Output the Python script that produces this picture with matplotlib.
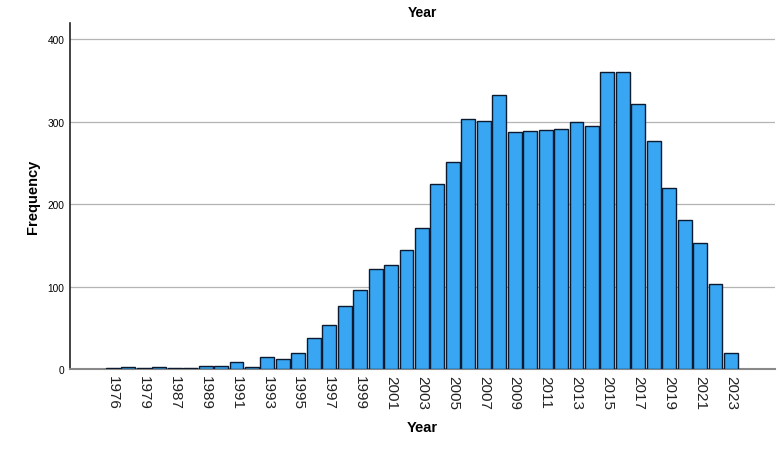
import matplotlib
matplotlib.use("Agg")
import matplotlib.pyplot as plt
import numpy as np

plt.rcParams['font.family'] = ['Liberation Sans', 'DejaVu Sans']

years = ["1976", "1978", "1979", "1983", "1987", "1988", "1989", "1990", "1991", "1992",
         "1993", "1994", "1995", "1996", "1997", "1998", "1999", "2000", "2001", "2002",
         "2003", "2004", "2005", "2006", "2007", "2008", "2009", "2010", "2011", "2012",
         "2013", "2014", "2015", "2016", "2017", "2018", "2019", "2020", "2021", "2022",
         "2023"]
counts = [1, 3, 1, 2, 1, 1, 4, 4, 8, 3,
          14, 12, 20, 38, 53, 77, 96, 121, 126, 145,
          171, 225, 251, 303, 301, 333, 288, 289, 290, 291,
          300, 295, 360, 360, 322, 277, 220, 181, 153, 103,
          19]
y_ticks = [0, 100, 200, 300, 400]

fig = plt.figure(figsize=(7.8, 4.52), dpi=100)
ax = fig.add_axes([0.0897, 0.1814, 0.9039, 0.7655])

x = np.arange(len(years))
ax.bar(x, counts, width=0.9, color='#38A6F2', edgecolor='#0B1A2E', linewidth=1.0, zorder=3)

ax.set_xlim(-2.78, 42.85)
ax.set_ylim(0, 420)
ax.set_yticks(y_ticks)
ax.set_yticklabels([str(v) for v in y_ticks], fontsize=7.3)
ax.set_xticks(x[::2])
ax.set_xticklabels(years[::2], rotation=-90, fontsize=11, color='#222222')
ax.tick_params(axis='both', length=0, pad=4)
ax.tick_params(axis='x', pad=4)

ax.yaxis.grid(True, color='#b4b4b4', linewidth=0.9, zorder=0)
ax.set_axisbelow(True)

for s in ['top', 'right']:
    ax.spines[s].set_visible(False)
ax.spines['left'].set_color('#222222')
ax.spines['left'].set_linewidth(1.2)
ax.spines['bottom'].set_color('#888888')
ax.spines['bottom'].set_linewidth(1.5)

ax.set_title('Year', fontsize=10, fontweight='bold', pad=5)
ax.set_xlabel('Year', fontsize=10.5, fontweight='bold', labelpad=8)
ax.set_ylabel('Frequency', fontsize=10.5, fontweight='bold', labelpad=5)

fig.savefig('out.png', dpi=100)
